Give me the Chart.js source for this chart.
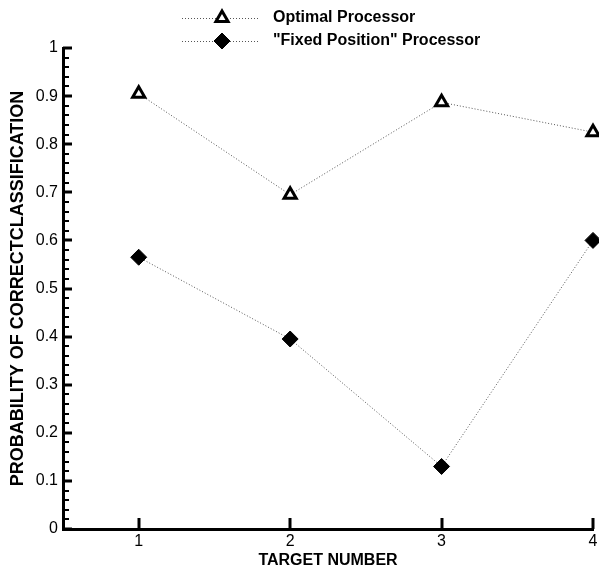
<!DOCTYPE html>
<html><head><meta charset="utf-8">
<script src="https://cdn.jsdelivr.net/npm/chart.js@4"></script>
<style>html,body{margin:0;padding:0;background:#fff}#wrap{width:599px;height:571px}</style>
</head><body><div id="wrap"><canvas id="c" width="599" height="571"></canvas></div>
<script>
const targets = [1, 2, 3, 4];
const optimalProcessor = [0.905, 0.695, 0.887, 0.825];
const fixedPositionProcessor = [0.565, 0.395, 0.13, 0.600];
const seriesNames = ['Optimal Processor', '"Fixed Position" Processor'];
const yTicks = [0, 0.1, 0.2, 0.3, 0.4, 0.5, 0.6, 0.7, 0.8, 0.9, 1];
const yMinorPerMajor = 5;
const xTicks = [1, 2, 3, 4];
const xTitle = 'TARGET NUMBER';
const yTitle = 'PROBABILITY OF CORRECTCLASSIFICATION';

const FONT = 'Liberation Sans, Arial, sans-serif';

const toPoints = (xs, ys) => xs.map((x, i) => ({x: x, y: ys[i]}));

const inwardTicks = {
  id: 'inwardTicks',
  afterDraw(chart) {
    const ctx = chart.ctx, xs = chart.scales.x, ys = chart.scales.y;
    const ca = chart.chartArea;
    ctx.save();
    ctx.strokeStyle = '#000';
    for (let i = 0; i < yTicks.length; i++) {
      const v = yTicks[i];
      const py = Math.round(ys.getPixelForValue(v));
      ctx.lineWidth = 3;
      ctx.beginPath(); ctx.moveTo(ca.left, py); ctx.lineTo(ca.left + 9, py); ctx.stroke();
      if (i < yTicks.length - 1) {
        const step = (yTicks[i + 1] - v) / yMinorPerMajor;
        ctx.lineWidth = 2;
        for (let k = 1; k < yMinorPerMajor; k++) {
          const my = Math.round(ys.getPixelForValue(v + k * step));
          ctx.beginPath(); ctx.moveTo(ca.left, my); ctx.lineTo(ca.left + 6, my); ctx.stroke();
        }
      }
    }
    ctx.lineWidth = 3;
    xTicks.forEach(v => {
      const px = Math.round(xs.getPixelForValue(v));
      ctx.beginPath(); ctx.moveTo(px, ca.bottom); ctx.lineTo(px, ca.bottom - 11); ctx.stroke();
    });
    ctx.restore();
  }
};

const customLegend = {
  id: 'customLegend',
  afterDraw(chart) {
    const ctx = chart.ctx;
    const rows = [18, 41];
    chart.data.datasets.forEach((ds, i) => {
      const y = rows[i];
      ctx.save();
      ctx.strokeStyle = ds.borderColor;
      ctx.lineWidth = 1;
      ctx.setLineDash(ds.borderDash);
      ctx.beginPath(); ctx.moveTo(182, y + 0.5); ctx.lineTo(258, y + 0.5); ctx.stroke();
      ctx.setLineDash([]);
      ctx.fillStyle = ds.pointBackgroundColor;
      ctx.strokeStyle = ds.pointBorderColor;
      ctx.lineWidth = ds.pointBorderWidth;
      Chart.helpers.drawPoint(ctx, {pointStyle: ds.pointStyle, rotation: 0, radius: ds.pointRadius, borderWidth: ds.pointBorderWidth}, 222, y);
      ctx.fillStyle = '#000';
      ctx.font = 'bold 16px ' + FONT;
      ctx.textBaseline = 'middle';
      ctx.textAlign = 'left';
      ctx.fillText(ds.label, 273, y);
      ctx.restore();
    });
  }
};

new Chart(document.getElementById('c'), {
  type: 'scatter',
  data: {
    datasets: [
      {
        label: seriesNames[0],
        data: toPoints(targets, optimalProcessor),
        showLine: true,
        borderColor: '#555',
        borderWidth: 1,
        borderDash: [1, 2],
        pointStyle: 'triangle',
        pointRadius: 7,
        pointBorderWidth: 3,
        pointBackgroundColor: '#fff',
        pointBorderColor: '#000',
        clip: false
      },
      {
        label: seriesNames[1],
        data: toPoints(targets, fixedPositionProcessor),
        showLine: true,
        borderColor: '#555',
        borderWidth: 1,
        borderDash: [1, 2],
        pointStyle: 'rectRot',
        pointRadius: 8,
        pointBorderWidth: 1,
        pointBackgroundColor: '#000',
        pointBorderColor: '#000',
        clip: false
      }
    ]
  },
  options: {
    responsive: false,
    animation: false,
    layout: {autoPadding: false, padding: {left: 0, top: 48, right: 6, bottom: 0}},
    plugins: {legend: {display: false}, tooltip: {enabled: false}},
    scales: {
      x: {
        type: 'linear',
        min: 0.5, max: 4,
        afterBuildTicks: s => { s.ticks = xTicks.map(v => ({value: v})); },
        afterFit: s => { s.height = 42; s.paddingLeft = 0; s.paddingRight = 0; },
        grid: {display: false, drawTicks: false},
        border: {display: true, color: '#000', width: 3},
        ticks: {color: '#000', padding: 3, font: {family: FONT, size: 16}, callback: v => String(v)},
        title: {display: true, text: xTitle, color: '#000', font: {family: FONT, size: 16, weight: 'bold'}, padding: {top: 0, bottom: 1}}
      },
      y: {
        type: 'linear',
        min: 0, max: 1,
        afterBuildTicks: s => { s.ticks = yTicks.map(v => ({value: v})); },
        afterFit: s => { s.width = 63; },
        grid: {display: false, drawTicks: false},
        border: {display: true, color: '#000', width: 3},
        ticks: {color: '#000', padding: 5, font: {family: FONT, size: 16}, callback: v => String(Math.round(v * 10) / 10)},
        title: {display: true, text: yTitle, color: '#000', font: {family: FONT, size: 18, weight: 'bold'}, padding: {top: 7, bottom: 0}}
      }
    }
  },
  plugins: [inwardTicks, customLegend]
});
</script>
</body></html>
